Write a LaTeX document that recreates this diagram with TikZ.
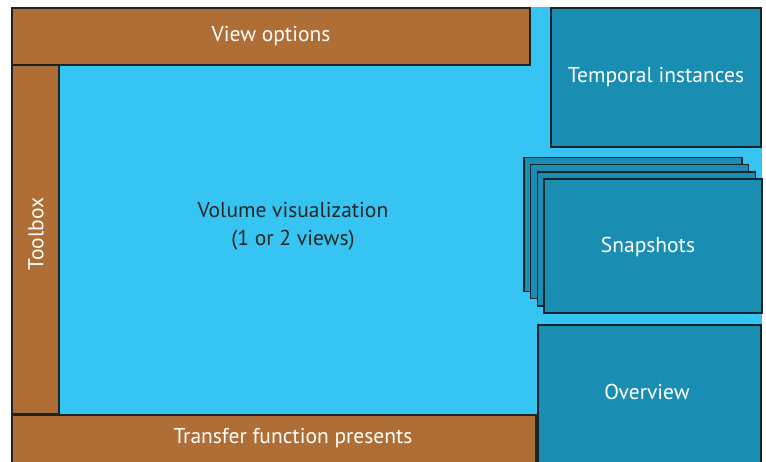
\documentclass[tikz,border=0pt]{standalone}
\usepackage{fontspec}
\setmainfont{PT Sans}
\definecolor{barbrown}{RGB}{175,110,53}
\definecolor{screenblue}{RGB}{54,197,242}
\definecolor{panelteal}{RGB}{26,141,178}
\definecolor{edgedark}{RGB}{24,36,40}
\tikzset{
  bar/.style={rectangle, draw=edgedark, fill=barbrown, line width=1.6pt,
              inner sep=0pt, text=white, font=\fontsize{21.5}{26}\selectfont},
  panel/.style={rectangle, draw=edgedark, fill=panelteal, line width=1.6pt,
                inner sep=0pt, text=white, font=\fontsize{21.5}{26}\selectfont},
  lbl/.style={inner sep=0pt, text=white, font=\fontsize{21.5}{26}\selectfont},
  snapbox/.style={panel, minimum width=218pt, minimum height=134pt},
}

\begin{document}
\begin{tikzpicture}[x=1pt, y=-1pt]
  \useasboundingbox (0,0) rectangle (766,462);
  % screen background
  \fill[screenblue] (11,7) rectangle (762,462);

  % left and top tool bars
  \node[bar, minimum width=518pt, minimum height=57pt] (viewopt) at (271,36.5) {View options};
  \node[bar, minimum width=47pt, minimum height=349pt] (toolbox) at (35.5,239.5) {};
  \node[lbl, rotate=90] (toolboxlbl) at (36,234) {Toolbox};
  \node[bar, minimum width=524pt, minimum height=55pt] (transfer) at (274,442.5) {};
  \node[lbl] (transferlbl) at (293,438) {Transfer function presents};

  % main view
  \node[inner sep=0pt, align=center, text=black!85, font=\fontsize{21.5}{28}\selectfont]
    (volume) at (293,226) {Volume visualization\\(1 or 2 views)};

  % right column
  \node[panel, minimum width=210pt, minimum height=139pt] (temporal) at (656,77.5) {Temporal instances};
  \foreach \i in {3,2,1}
    \node[snapbox] (snap\i) at ({653-6.7*\i},{246-7.2*\i}) {};
  \node[snapbox] (snapshots) at (653,246) {};
  \node[lbl] (snapshotslbl) at (648,247) {Snapshots};
  \node[panel, minimum width=223pt, minimum height=145pt] (overview) at (649.5,397.5) {};
  \node[lbl] (overviewlbl) at (647,392) {Overview};
\end{tikzpicture}
\end{document}
